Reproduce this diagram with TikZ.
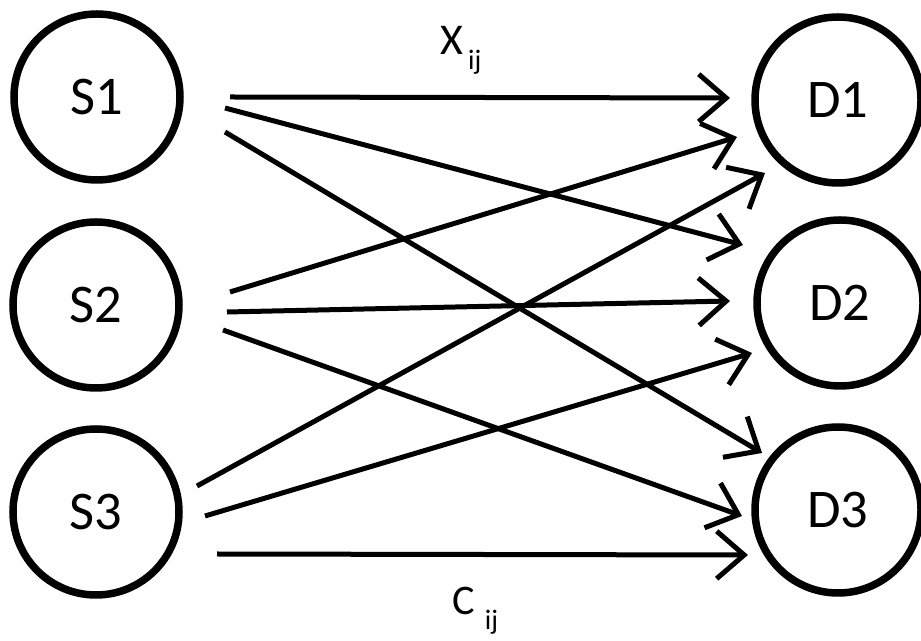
\documentclass[tikz,border=0pt]{standalone}
\usepackage{fontspec}
\setmainfont{Carlito}
\usetikzlibrary{arrows.meta}
\tikzset{
  nd/.style = {circle, draw=black, fill=white, text=black, inner sep=0pt,
    minimum size=3.32cm, line width=0.15cm, font=\fontsize{31}{36}\selectfont},
  fl/.style = {-{Straight Barb[length=0.55cm, width=0.95cm]}, line width=0.1cm},
  lab/.style = {inner sep=0pt, anchor=base west, font=\fontsize{25}{30}\selectfont}
}
\newcommand{\sbx}[1]{\raisebox{-0.3cm}{\fontsize{16}{18}\selectfont #1}}

\begin{document}
\begin{tikzpicture}
  \useasboundingbox (0,0) rectangle (18.42,12.82);
  \node [nd] (s1) at (1.94,10.88) {S1};
  \node [nd] (s2) at (1.92,6.72) {S2};
  \node [nd] (s3) at (1.92,2.58) {S3};
  \node [nd] (d1) at (16.76,10.82) {D1};
  \node [nd] (d2) at (16.80,6.76) {D2};
  \node [nd] (d3) at (16.76,2.62) {D3};
  \foreach \s/\d/\ox/\oy/\ix/\iy in {
      1/1/2.66/0/-2.16/0.04, 1/2/2.56/-0.22/-1.94/1.16, 1/3/2.56/-0.70/-1.52/1.14,
      2/1/2.68/0.26/-2.02/-0.74, 2/2/2.62/-0.14/-2.20/0.04, 2/3/2.54/-0.50/-1.92/-0.12,
      3/1/2.02/0.52/-1.46/-1.46, 3/2/2.18/-0.08/-1.76/-1.00, 3/3/2.42/-0.84/-1.80/-0.90}
    \draw [fl] ([shift={(\ox,\oy)}]s\s.center) -- ([shift={(\ix,\iy)}]d\d.center);
  \node [lab] (x) at (8.80,11.72) {X\kern0.1cm\sbx{ij}};
  \node [lab, font=\fontsize{24}{28}\selectfont] (c) at (9.04,0.52) {C\kern0.2cm\sbx{ij}};
\end{tikzpicture}
\end{document}
